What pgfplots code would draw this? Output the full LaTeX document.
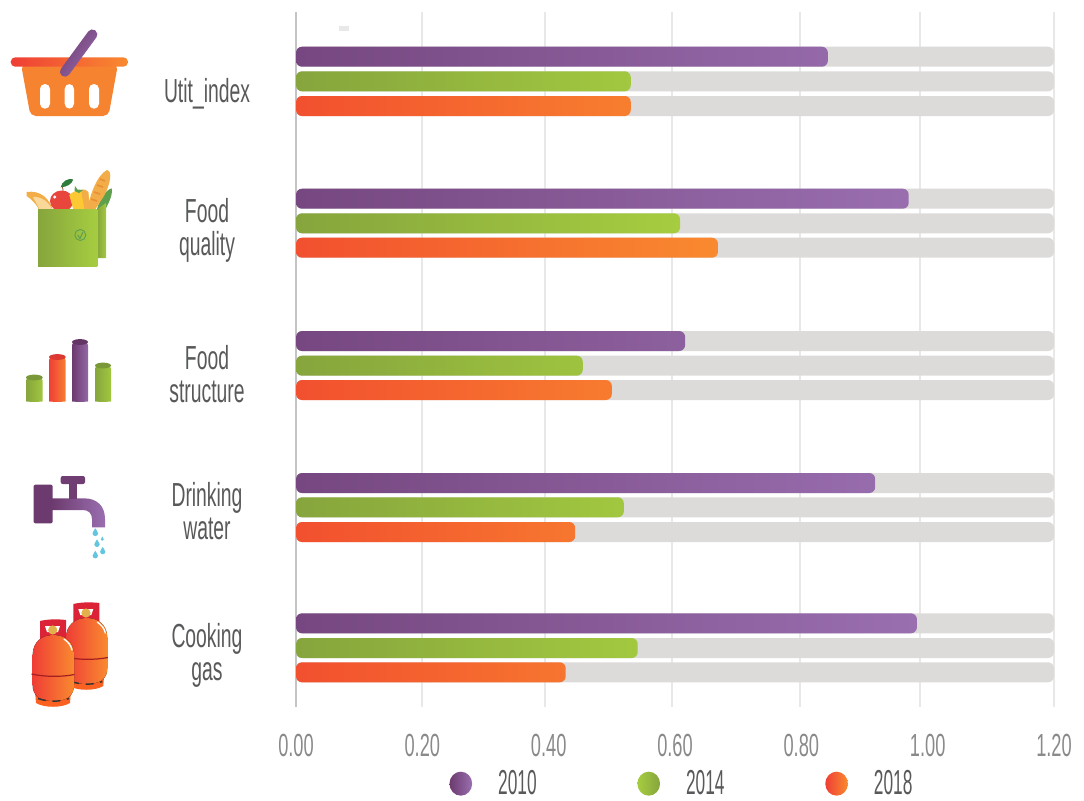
\documentclass[border=0pt]{standalone}
\usepackage{fontspec}
\usepackage{pgfplots}
\pgfplotsset{compat=1.18}
\setmainfont{Liberation Sans}
\newfontfamily\labelfont[FakeStretch=0.58]{Liberation Sans}
\newfontfamily\tickfont[FakeStretch=0.57]{Liberation Sans}
\newfontfamily\legendfont[FakeStretch=0.5]{Liberation Sans}

\definecolor{purpleA}{HTML}{6C3A6E}
\definecolor{purpleBar}{HTML}{764780}
\definecolor{purpleB}{HTML}{9A6FB0}
\definecolor{greenA}{HTML}{86A53D}
\definecolor{greenB}{HTML}{A6CD40}
\definecolor{redA}{HTML}{F2502F}
\definecolor{redB}{HTML}{F98A2F}
\definecolor{basketRed}{HTML}{EF3E36}
\definecolor{basketBody}{HTML}{F68330}
\definecolor{track}{HTML}{DDDBD9}
\definecolor{gridgrey}{HTML}{E8E8E8}
\definecolor{axisgrey}{HTML}{C4C4C4}
\definecolor{ticktext}{HTML}{8A8A8A}
\definecolor{labeltext}{HTML}{58595B}
\definecolor{drop}{HTML}{63C5DE}
\definecolor{appleRed}{HTML}{E8453C}
\definecolor{leafDark}{HTML}{2E7D3C}
\definecolor{leafMid}{HTML}{5FA04E}
\definecolor{pepper}{HTML}{FCC834}
\definecolor{crust}{HTML}{F3AD48}
\definecolor{crustDark}{HTML}{E8903A}
\definecolor{crumb}{HTML}{F9D89A}
\definecolor{collar}{HTML}{DB2237}
\definecolor{brass}{HTML}{E3B04B}
\definecolor{bandRed}{HTML}{A51E22}

% value, row position measured upward from the foot of the page
\pgfplotstableread{
v    y
0.842 743.3
0.970 601.3
0.616 459
0.917 317
0.983 176.7
}\seriesTen
\pgfplotstableread{
v    y
0.530 718.7
0.608 576.7
0.454 434.3
0.519 292.7
0.541 152
}\seriesFourteen
\pgfplotstableread{
v    y
0.530 694
0.668 552.3
0.500 410
0.442 268
0.427 127.7
}\seriesEighteen
\pgfplotstableread{
v    y
1.2 743.3
1.2 718.7
1.2 694
1.2 601.3
1.2 576.7
1.2 552.3
1.2 459
1.2 434.3
1.2 410
1.2 317
1.2 292.7
1.2 268
1.2 176.7
1.2 152
1.2 127.7
}\seriesTrack

\pgfplotsset{
  gradient bar/.style 2 args={
    xbar, bar width=15pt, draw=none, rounded corners=4.5pt,
    shade, shading=axis, left color=#1, right color=#2
  },
  legend dot/.style 2 args={
    legend image code/.code={
      \shade[left color=#1,right color=#2,draw=none]
        (0pt,0pt) ellipse [x radius=8.5pt,y radius=9pt];
    }
  }
}

\newcommand{\gasbottle}{%
  \fill[redB!70!red] (35,690) -- (71,690) -- (70,703) .. controls (62,708) and (44,708) .. (36,703) -- cycle;
  \fill[collar] (40,621) .. controls (48,619) and (58,619) .. (66,620) -- (66,640) -- (40,640) -- cycle;
  \fill[white] (45,626) -- (60,626) -- (58,632) -- (47,632) -- cycle;
  \fill[left color=basketRed,right color=redB]
    (32.7,655) .. controls (32.7,642) and (42,635) .. (53.3,635)
    .. controls (65,635) and (74,642) .. (74,655) -- (74,685)
    .. controls (74,695) and (68,701) .. (53.3,701)
    .. controls (39,701) and (32.7,695) .. (32.7,685) -- cycle;
  \draw[bandRed,line width=.9pt] (31.5,674) .. controls (45,677) and (62,677) .. (74.5,674.5);
  \draw[black!80,line width=1.1pt,dash pattern=on 6pt off 5pt] (38,698.5) .. controls (48,702) and (60,702) .. (69,698.5);
  \fill[brass] (52.7,630) circle [radius=4.6];
  \draw[white,line width=1pt,line cap=round] (64,639) .. controls (68,642) and (71,645) .. (72,650);
}

\begin{document}
\begin{tikzpicture}
\useasboundingbox (0,0) rectangle (813pt,-600pt);

\begin{axis}[
  at={(222pt,-530.25pt)}, anchor=south west,
  scale only axis, width=568.5pt, height=521.25pt,
  xmin=0, xmax=1.2, ymin=93, ymax=788,
  axis lines=left,
  axis line style={-},
  x axis line style={draw=none},
  y axis line style={draw=axisgrey,line width=1.5pt},
  xtick={0,0.2,0.4,0.6,0.8,1.0,1.2},
  minor xtick={0.1987,0.3942,0.5953,0.7979,0.9879,1.2},
  xminorgrids=true,
  minor grid style={draw=gridgrey,line width=1.5pt},
  minor tick length=0pt, major tick length=0pt,
  xticklabel style={
    /pgf/number format/.cd,fixed,fixed zerofill,precision=2,assume math mode=true,
    /tikz/.cd,font=\fontsize{24}{26}\selectfont\tickfont,text=ticktext,yshift=-17pt},
  ytick={144.5,289,426,569.5,706},
  yticklabels={{Cooking\\gas},{Drinking\\water},{Food\\structure},{Food\\quality},{Utit\_index}},
  yticklabel style={anchor=center,align=center,xshift=-66.75pt,
    font=\fontsize{25}{25}\selectfont\labelfont,text=labeltext},
  legend columns=3,
  legend style={at={(0.5,0)},anchor=center,yshift=-57.5pt,xshift=8.5pt,draw=none,fill=none,
    font=\fontsize{26}{28}\selectfont\legendfont,text=labeltext,
    /tikz/every even column/.append style={column sep=67.5pt},
    /tikz/every odd column/.append style={column sep=11.5pt},
    nodes={inner xsep=8pt}},
  legend cell align=left,
]
\addplot[xbar,bar width=15pt,draw=none,fill=track,rounded corners=4.5pt,forget plot] table[x=v,y=y] {\seriesTrack};
\addplot[gradient bar={purpleBar}{purpleB},legend dot={purpleA}{purpleB}] table[x=v,y=y] {\seriesTen};
\addplot[gradient bar={greenA}{greenB},legend dot={greenB}{greenA}] table[x=v,y=y] {\seriesFourteen};
\addplot[gradient bar={redA}{redB},legend dot={basketRed}{redB}] table[x=v,y=y] {\seriesEighteen};
\legend{2010,2014,2018}
\end{axis}

% pictograms beside the categories, laid out on a 1084 by 800 grid
\begin{scope}[x=.75pt,y=-.75pt]
  \fill[gridgrey] (339,26) rectangle (349,31);

  % basket
  \fill[basketBody,rounded corners=4pt] (21,64) -- (118,64) -- (108.5,116) -- (30.5,116) -- cycle;
  \fill[white,rounded corners=3.7pt] (40,84) rectangle (50,108.7);
  \fill[white,rounded corners=3.7pt] (64.7,84) rectangle (74,108.7);
  \fill[white,rounded corners=3.7pt] (89,84) rectangle (99,108.7);
  \shade[left color=basketRed,right color=redB,rounded corners=3.4pt] (10.7,57.3) rectangle (128,66.7);
  \shade[left color=purpleA,right color=purpleB,shading angle=54,rounded corners=3.6pt]
    (66.1,78.7) -- (58,72.8) -- (91.2,27.5) -- (99.3,33.4) -- cycle;

  % grocery bag
  \fill[crust] (26.7,192) .. controls (40,190) and (50,198) .. (53.3,212) -- (40,212) .. controls (37,204) and (31,199) .. (26.7,196) -- cycle;
  \fill[crumb] (33,197) .. controls (42,196) and (50,203) .. (53.3,212) -- (41,212) -- cycle;
  \draw[brown!70!black,line width=.6pt] (63.3,193) .. controls (63,188) and (62,186) .. (62,185);
  \fill[leafDark] (60.7,187.3) .. controls (62,181) and (68,178) .. (73.3,179.3) .. controls (72,184) and (67,187) .. cycle;
  \fill[appleRed] (61.7,201) ellipse [x radius=11.7,y radius=10.5];
  \fill[white] (54.7,197) circle [radius=1.7];
  \fill[pepper] (69.3,195) .. controls (74,190) and (84,188) .. (88.3,192) -- (90,212) -- (74,212) -- cycle;
  \fill[crust] (81,190) .. controls (85,189) and (87,190) .. (88.3,192) -- (90,212) -- (85,212) -- cycle;
  \fill[leafMid] (74.5,191) -- (75,186) -- (77.5,189.5) -- (83,190) -- (79,193) -- cycle;
  \fill[leafMid] (96.7,210) .. controls (100,198) and (106,190) .. (111.7,188.3) .. controls (113,196) and (108,204) .. (104,212) -- cycle;
  \fill[crust] (87,210) .. controls (90,195) and (97,175) .. (107,170) .. controls (113,171) and (110,185) .. (104,196) .. controls (100,202) and (97,207) .. (94,211) -- cycle;
  \draw[crustDark,line width=1.3pt] (91,199) -- (97,201) (94,192) -- (100,194) (97,185) -- (103,187) (100,179) -- (105,181);
  \shade[left color=greenA,right color=greenB!90!greenA] (97,209.3) -- (106,203) -- (106,258) -- (98,258) -- cycle;
  \shade[left color=greenA,right color=greenB] (38,209) rectangle (97.3,266);
  \draw[leafMid,line width=.7pt] (80.3,235) circle [radius=5.5];
  \draw[leafMid,line width=.8pt] (77.8,235) -- (80,238.5) -- (83,232);

  % cylinders
  \foreach \xa/\xb/\ya/\ca/\cb/\ct in {26/42.7/377.5/greenA/greenB/greenA,49/65.7/357/basketRed/redB/basketRed,72/88/342/purpleA/purpleB/purpleA,95/111/365.5/greenA/greenB/greenA}{
    \shade[left color=\ca,right color=\cb!85!\ca,rounded corners=2.5pt]
      (\xa,\ya) -- (\xb,\ya) -- (\xb,398) .. controls (\xb,402) and (\xa,402) .. (\xa,398) -- cycle;
    \fill[\ct!92!black] ({(\xa+\xb)/2},\ya) ellipse [x radius={(\xb-\xa)/2},y radius=2.9];
  }

  % tap
  \shade[left color=purpleA,right color=purpleB]
    (52,498.3) -- (84,498.3) .. controls (97,498.3) and (105,506) .. (105,519) -- (105,527.3)
    -- (92,527.3) -- (92,519) .. controls (92,513) and (88,510) .. (83,510) -- (52,510) -- cycle;
  \fill[purpleA!92!purpleB] (69.3,484) rectangle (76.7,498.5);
  \fill[purpleA!92!purpleB,rounded corners=1.5pt] (60.7,476) rectangle (85,484);
  \fill[purpleA,rounded corners=1pt] (33.7,484.7) rectangle (52.7,523.3);
  \foreach \dx/\dy/\dr in {95.3/533.3/2.8,102.3/539.3/1.5,97/544.3/2.7,102.7/551.7/2.6,95.3/555.7/2.7}{
    \fill[drop] (\dx-\dr,\dy) .. controls (\dx-\dr,\dy-\dr) and (\dx-.3,\dy-\dr) .. (\dx,\dy-1.8*\dr)
      .. controls (\dx+.3,\dy-\dr) and (\dx+\dr,\dy-\dr) .. (\dx+\dr,\dy)
      arc[start angle=0,end angle=180,radius=\dr];
  }

  % gas bottles, the rear one first
  \begin{scope}[shift={(33.3,-17)}]\gasbottle\end{scope}
  \gasbottle
\end{scope}
\end{tikzpicture}
\end{document}
